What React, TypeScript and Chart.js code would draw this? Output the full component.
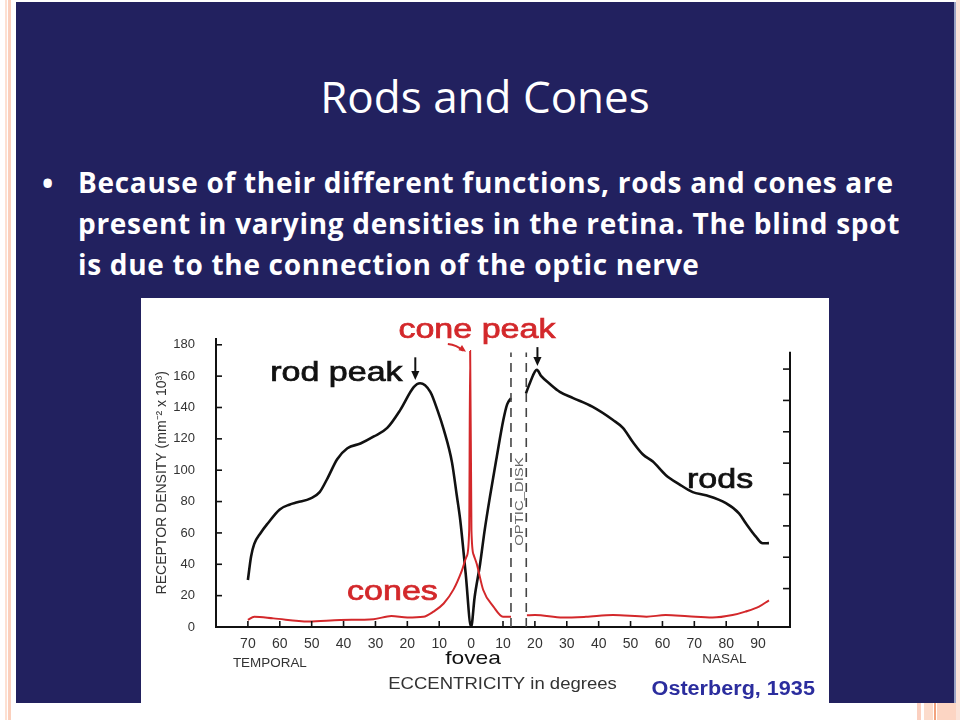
import React, { useEffect, useRef } from 'react';
import { Chart, registerables } from 'chart.js';

Chart.register(...registerables);

// ---------- data ----------
// Eccentricity in degrees: temporal side negative, nasal side positive
const X_TICKS = [-70, -60, -50, -40, -30, -20, -10, 0, 10, 20, 30, 40, 50, 60, 70, 80, 90];
const Y_TICKS = [0, 20, 40, 60, 80, 100, 120, 140, 160, 180];
const Y2_TICKS = [20, 40, 60, 80, 100, 120, 140, 160];

// Rod density (mm^-2 x 10^3); null = optic disk (blind spot)
const ROD_X = [-70, -69, -68, -66, -63.8, -60, -57, -54.5, -50.3, -47.5, -45, -42, -38.8, -34.7, -30.5, -26.3, -22.2, -18, -16, -12.8, -10.5, -8.6, -6, -4.5, -3.4, -1.7, 0, 1.1, 2.8, 4.2, 5.9, 8, 10.1, 11.3, 12.5, 15, 17.2, 18.5, 20.6, 22, 24.7, 27.8, 32, 38, 44.5, 47.6, 50.7, 53.9, 57, 61, 65.3, 69.5, 73.6, 79.9, 84, 86.2, 89.3, 91.4, 93.4];
const ROD_Y = [30, 45, 53, 60, 66, 75, 78, 79.5, 82, 86, 95, 107, 114, 117, 121.5, 127, 138.5, 153, 155.5, 150, 138, 126, 105, 84, 68, 34, 0, 19, 40, 61, 83, 108, 132, 142, 146, null, 149, 156, 164, 160, 155, 150, 146, 140.5, 132, 127, 118, 110, 105.5, 97, 91, 86, 84, 79, 72.5, 66, 57.6, 53.4, 53.5];

// Cone density (mm^-2 x 10^3)
const CONE_X = [-70, -68, -62, -51, -41, -30.6, -25, -20, -15, -11.8, -8.6, -5.5, -2.9, -1.4, -0.6, -0.3, 0.1, 0.8, 1.8, 3.8, 7, 10, 12.5, 15, 17.5, 20, 28.8, 36, 44.5, 55, 61, 68, 75.7, 82, 86, 90.3, 93.4];
const CONE_Y = [4.5, 6.5, 5.5, 3.5, 4.5, 5, 7, 6, 6.5, 9.8, 15, 24, 36, 45, 62, 176, 62, 46, 40, 23.6, 13, 6.6, 6.6, null, 7.5, 7.6, 6, 6.5, 7.6, 6.6, 7.6, 6.8, 6, 7.6, 9.8, 13, 17];

// Optic disk boundaries (degrees, nasal) and height of the dashed markers
const OPTIC_DISK_EDGES = [12.5, 17.3];
const OPTIC_DISK_TOP = 175;
const RIGHT_AXIS_TOP = 171; // in right-axis units

// ---------- styles ----------
const NAVY = '#22215f';
const INK = '#111111';
const RED = '#d3282b';
const GREY = '#333333';
const BLUE = '#2b2d9e';
const FONT = '"Liberation Sans", Arial, Helvetica, sans-serif';

type Lbl = { text: string; x: number; y: number; color: string; font: string; sx: number; align?: CanvasTextAlign };

const CHART_LABELS: Lbl[] = [
  { text: 'rod peak', x: -63, y: 157, color: INK, font: `27px ${FONT}`, sx: 1.26 },
  { text: 'cone peak', x: -22.8, y: 184.2, color: RED, font: `27px ${FONT}`, sx: 1.26 },
  { text: 'rods', x: 67.7, y: 88.9, color: INK, font: `27px ${FONT}`, sx: 1.26 },
  { text: 'cones', x: -38.9, y: 17.2, color: RED, font: `27px ${FONT}`, sx: 1.26 },
  { text: 'fovea', x: 0.6, y: -23.8, color: INK, font: `19px ${FONT}`, sx: 1.2, align: 'center' },
  { text: 'TEMPORAL', x: -74.7, y: -25.5, color: GREY, font: `12px ${FONT}`, sx: 1.12 },
  { text: 'NASAL', x: 72.5, y: -23, color: GREY, font: `12px ${FONT}`, sx: 1.12 },
  { text: 'ECCENTRICITY in degrees', x: -26, y: -39.6, color: GREY, font: `17px ${FONT}`, sx: 1.09 },
  { text: 'Osterberg, 1935', x: 56.6, y: -43.4, color: BLUE, font: `bold 20px ${FONT}`, sx: 1.08 },
];

function drawText(ctx: CanvasRenderingContext2D, l: Lbl, px: number, py: number) {
  ctx.save();
  ctx.translate(px, py);
  ctx.scale(l.sx, 1);
  ctx.font = l.font;
  ctx.fillStyle = l.color;
  ctx.textAlign = l.align || 'left';
  ctx.textBaseline = 'alphabetic';
  ctx.fillText(l.text, 0, 0);
  if (l.font.startsWith('27px')) {
    ctx.strokeStyle = l.color;
    ctx.lineWidth = 0.7;
    ctx.strokeText(l.text, 0, 0);
  }
  ctx.restore();
}

function arrowHead(ctx: CanvasRenderingContext2D, x: number, y: number, ang: number, size: number, color: string) {
  ctx.save();
  ctx.translate(x, y);
  ctx.rotate(ang);
  ctx.fillStyle = color;
  ctx.beginPath();
  ctx.moveTo(0, 0);
  ctx.lineTo(-size, -size * 0.45);
  ctx.lineTo(-size, size * 0.45);
  ctx.closePath();
  ctx.fill();
  ctx.restore();
}

const annotationPlugin = {
  id: 'retinaAnnotations',
  afterDraw(chart: any) {
    const { ctx, chartArea } = chart;
    const x = chart.scales.x;
    const y = chart.scales.y;
    const y2 = chart.scales.y2;
    ctx.save();
    ctx.strokeStyle = INK;
    ctx.lineWidth = 1.6;
    // inward tick marks on x axis
    X_TICKS.forEach((v) => {
      const px = x.getPixelForValue(v);
      ctx.beginPath();
      ctx.moveTo(px, chartArea.bottom);
      ctx.lineTo(px, chartArea.bottom - 6);
      ctx.stroke();
    });
    // inward tick marks on left axis
    Y_TICKS.forEach((v) => {
      if (v === 0) return;
      const py = y.getPixelForValue(v);
      ctx.beginPath();
      ctx.moveTo(chartArea.left, py);
      ctx.lineTo(chartArea.left + 6, py);
      ctx.stroke();
    });
    // right axis and its ticks
    ctx.lineWidth = 2;
    ctx.beginPath();
    ctx.moveTo(chartArea.right, y2.getPixelForValue(RIGHT_AXIS_TOP));
    ctx.lineTo(chartArea.right, chartArea.bottom);
    ctx.stroke();
    ctx.lineWidth = 1.6;
    Y2_TICKS.forEach((v) => {
      const py = y2.getPixelForValue(v);
      ctx.beginPath();
      ctx.moveTo(chartArea.right, py);
      ctx.lineTo(chartArea.right - 7, py);
      ctx.stroke();
    });

    // rod peak arrow (temporal)
    const ax1 = x.getPixelForValue(-17.5);
    ctx.strokeStyle = INK;
    ctx.lineWidth = 2;
    ctx.beginPath();
    ctx.moveTo(ax1, y.getPixelForValue(172));
    ctx.lineTo(ax1, y.getPixelForValue(157.5) - 5);
    ctx.stroke();
    arrowHead(ctx, ax1, y.getPixelForValue(157.5), Math.PI / 2, 9, INK);
    // rod peak arrow (nasal)
    const ax2 = x.getPixelForValue(20.8);
    ctx.beginPath();
    ctx.moveTo(ax2, y.getPixelForValue(178.5));
    ctx.lineTo(ax2, y.getPixelForValue(166.5) - 5);
    ctx.stroke();
    arrowHead(ctx, ax2, y.getPixelForValue(166.5), Math.PI / 2, 9, INK);
    // cone peak arrow
    const cx1 = x.getPixelForValue(-7.3);
    const cy1 = y.getPixelForValue(180.5);
    const cx2 = x.getPixelForValue(-1.6);
    const cy2 = y.getPixelForValue(175.6);
    ctx.strokeStyle = RED;
    ctx.lineWidth = 2;
    ctx.beginPath();
    ctx.moveTo(cx1, cy1);
    ctx.quadraticCurveTo((cx1 + cx2) / 2, cy1 + 1, cx2 - 3, cy2 - 1);
    ctx.stroke();
    arrowHead(ctx, cx2, cy2, Math.atan2(cy2 - cy1, cx2 - cx1) + 0.2, 7, RED);

    // optic disk label
    ctx.save();
    ctx.translate(x.getPixelForValue((OPTIC_DISK_EDGES[0] + OPTIC_DISK_EDGES[1]) / 2) + 4, y.getPixelForValue(80));
    ctx.rotate(-Math.PI / 2);
    ctx.scale(1.35, 1);
    ctx.font = `11px ${FONT}`;
    ctx.fillStyle = '#666';
    ctx.textAlign = 'center';
    ctx.textBaseline = 'alphabetic';
    ctx.fillText('OPTIC_DISK', 0, 0);
    ctx.restore();

    // text annotations
    CHART_LABELS.forEach((l) => drawText(ctx, l, x.getPixelForValue(l.x), y.getPixelForValue(l.y)));
    ctx.restore();
  },
};

function ChartCanvas() {
  const ref = useRef<HTMLCanvasElement | null>(null);
  useEffect(() => {
    if (!ref.current) return;
    const rods = ROD_X.map((v, i) => ({ x: v, y: ROD_Y[i] }));
    const cones = CONE_X.map((v, i) => ({ x: v, y: CONE_Y[i] }));
    const disk = OPTIC_DISK_EDGES.map((e) => ({
      label: 'optic disk',
      data: [{ x: e, y: 0 }, { x: e, y: OPTIC_DISK_TOP }],
      borderColor: '#444',
      borderWidth: 1.6,
      borderDash: [9, 6],
      pointRadius: 0,
      tension: 0,
      fill: false,
    }));
    const chart = new Chart(ref.current, {
      type: 'line',
      data: {
        datasets: [
          ...disk,
          {
            label: 'cones',
            data: cones as any,
            borderColor: RED,
            borderWidth: 2,
            pointRadius: 0,
            cubicInterpolationMode: 'monotone',
            spanGaps: false,
            fill: false,
          },
          {
            label: 'rods',
            data: rods as any,
            borderColor: INK,
            borderWidth: 2.6,
            pointRadius: 0,
            cubicInterpolationMode: 'monotone',
            spanGaps: false,
            fill: false,
          },
        ] as any,
      },
      options: {
        responsive: false,
        animation: false,
        devicePixelRatio: 1,
        layout: { padding: { left: 10, top: 40.5, right: 0, bottom: 0 } },
        plugins: { legend: { display: false }, tooltip: { enabled: false } },
        scales: {
          x: {
            type: 'linear',
            min: -80,
            max: 100,
            afterBuildTicks: (s: any) => {
              s.ticks = X_TICKS.map((v) => ({ value: v }));
            },
            afterFit: (s: any) => {
              s.height = 76;
            },
            ticks: {
              autoSkip: false,
              maxRotation: 0,
              padding: 1,
              color: GREY,
              font: { family: FONT, size: 14 },
              callback: (v: any) => String(Math.abs(Number(v))),
            },
            grid: { display: false },
            border: { display: true, color: INK, width: 2 },
          },
          y: {
            type: 'linear',
            position: 'left',
            min: 0,
            max: 184,
            afterBuildTicks: (s: any) => {
              s.ticks = Y_TICKS.map((v) => ({ value: v }));
            },
            afterFit: (s: any) => {
              s.width = 65;
            },
            ticks: { padding: 13, color: GREY, font: { family: FONT, size: 13 } },
            grid: { display: false },
            border: { display: true, color: INK, width: 2 },
            title: {
              display: true,
              text: 'RECEPTOR DENSITY (mm⁻² x 10³)',
              color: GREY,
              font: { family: FONT, size: 14 },
              padding: { top: 3, bottom: 3 },
            },
          },
          y2: {
            type: 'linear',
            position: 'right',
            min: -4.5,
            max: 179.5,
            afterBuildTicks: (s: any) => {
              s.ticks = Y2_TICKS.map((v) => ({ value: v }));
            },
            afterFit: (s: any) => {
              s.width = 39;
            },
            ticks: { display: false },
            grid: { display: false },
            border: { display: false },
          },
        },
      } as any,
      plugins: [annotationPlugin],
    });
    return () => chart.destroy();
  }, []);
  return <canvas ref={ref} width={688} height={405} style={{ display: 'block', width: 688, height: 405 }} />;
}

const BULLET_LINES = [
  'Because of their different functions, rods and cones are',
  'present in varying densities in the retina. The blind spot',
  'is due to the connection of the optic nerve',
];

export default function App() {
  const abs = (s: React.CSSProperties): React.CSSProperties => ({ position: 'absolute', ...s });
  return (
    <div style={abs({ left: 0, top: 0, width: 960, height: 720, background: '#ffffff', overflow: 'hidden' })}>
      {/* decorative stripes */}
      <div style={abs({ left: 5, top: 0, width: 2, height: 720, background: '#fde0d2' })} />
      <div style={abs({ left: 8, top: 0, width: 3, height: 720, background: '#fbd0bd' })} />
      <div style={abs({ left: 917, top: 703, width: 4, height: 17, background: '#fbd0c0' })} />
      <div style={abs({ left: 924, top: 703, width: 9, height: 17, background: '#fcdccc' })} />
      <div style={abs({ left: 934, top: 703, width: 2, height: 17, background: '#f2a27e' })} />
      <div style={abs({ left: 937, top: 703, width: 23, height: 17, background: '#fcd5c3' })} />
      <div style={abs({ left: 956, top: 0, width: 4, height: 720, background: '#fbe3d8' })} />
      {/* slide */}
      <div style={abs({ left: 16, top: 2, width: 938, height: 701, background: NAVY })} />
      <div style={abs({ left: 954, top: 2, width: 2, height: 701, background: '#9aa3c4' })} />
      <div
        style={abs({
          left: 16,
          top: 66,
          width: 938,
          height: 60,
          lineHeight: '60px',
          textAlign: 'center',
          color: '#ffffff',
          fontFamily: '"Open Sans", sans-serif',
          fontSize: 44,
          whiteSpace: 'nowrap',
        })}
      >
        Rods and Cones
      </div>
      <div
        style={abs({
          left: 42,
          top: 162,
          height: 41,
          lineHeight: '41px',
          color: '#ffffff',
          fontFamily: '"Open Sans", sans-serif',
          fontSize: 30,
          fontWeight: 700,
        })}
      >
        •
      </div>
      {BULLET_LINES.map((t, i) => (
        <div
          key={i}
          style={abs({
            left: 78,
            top: 162 + i * 41,
            height: 41,
            lineHeight: '41px',
            color: '#ffffff',
            fontFamily: '"Open Sans", sans-serif',
            fontSize: 28,
            fontWeight: 700,
            letterSpacing: 0.7,
            whiteSpace: 'nowrap',
          })}
        >
          {t}
        </div>
      ))}
      <div style={abs({ left: 141, top: 298, width: 688, height: 405, background: '#ffffff' })}>
        <ChartCanvas />
      </div>
    </div>
  );
}
